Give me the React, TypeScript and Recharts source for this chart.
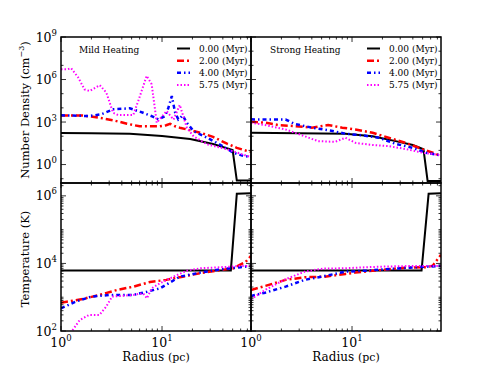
import React from 'react';
import { LineChart, Line, XAxis, YAxis } from 'recharts';

const W = 491;
const H = 368;

// ---------- Mild heating, number density ----------
const rMildN0 = [1, 2, 4.8, 10, 19, 32, 50, 55, 76];
const nMildN0 = [166, 160, 149, 102, 63, 28, 10.5, 0.074, 0.074];
const rMildN2 = [1, 1.65, 2.4, 3.3, 4.5, 6, 9.5, 11, 12, 13.5, 15, 17.6, 24, 32, 44, 55, 70, 76];
const nMildN2 = [2950, 2900, 2000, 1320, 760, 500, 500, 600, 750, 500, 400, 300, 175, 90, 30, 15, 9, 8];
const rMildN4 = [1, 1.9, 2.5, 3.3, 4.8, 6.5, 8, 9.2, 10.7, 11.5, 12.5, 13.5, 14.5, 16, 17.6, 20.5, 28, 38, 51, 64, 76];
const nMildN4 = [3000, 2650, 3500, 7900, 9300, 4500, 2500, 1550, 2650, 9000, 68000, 4500, 1550, 2900, 890, 230, 78, 24, 6.8, 4, 3.5];
const rMildN6 = [1, 1.15, 1.26, 1.47, 1.71, 1.92, 2.42, 2.81, 3.28, 3.68, 5.19, 5.81, 7.05, 7.9, 8.87, 10, 11.1, 12, 13, 15, 17.6, 20.5, 27.8, 44, 70, 76];
const nMildN6 = [5.2e6, 5.2e6, 6.2e6, 1.5e6, 2e5, 1.55e5, 4e5, 1.2e5, 4500, 3100, 3100, 3e4, 1.8e6, 4.6e5, 900, 2500, 6000, 3000, 1500, 16000, 400, 100, 27, 12, 4, 3.5];

// ---------- Strong heating, number density ----------
const rStrongN0 = [1, 8.6, 16, 27, 40, 51, 56, 76];
const nStrongN0 = [175, 150, 100, 45, 24, 12, 0.07, 0.07];
const rStrongN2 = [1, 1.38, 1.86, 2.7, 4, 5.8, 8, 10.8, 16, 23, 34, 50, 63, 76];
const nStrongN2 = [1050, 900, 615, 520, 400, 615, 400, 300, 175, 78, 34, 12, 6.8, 4];
const rStrongN4 = [1, 1.6, 2.2, 2.7, 4, 5.8, 8.6, 12.7, 18.4, 27, 40, 54, 72, 76];
const nStrongN4 = [1550, 1500, 1500, 750, 400, 270, 150, 115, 78, 29, 15, 6.8, 4.8, 4.5];
const rStrongN6 = [1, 1.38, 2.2, 3.4, 4.6, 6.8, 8.6, 10.8, 16, 23, 34, 50, 72, 76];
const nStrongN6 = [890, 615, 300, 100, 45, 40, 78, 34, 24, 20, 12.4, 6.8, 4.8, 4.6];

// ---------- Mild heating, temperature ----------
const rMildT0 = [1, 48, 55, 76];
const tMildT0 = [6200, 6200, 1.15e6, 1.2e6];
const rMildT2 = [1, 1.65, 2.4, 3.6, 5.2, 7.6, 11, 16, 24, 35, 51, 67, 76];
const tMildT2 = [690, 890, 1170, 1640, 2050, 2820, 3260, 4060, 5150, 6100, 7200, 11000, 16700];
const rMildT4 = [1, 1.4, 2, 3.05, 5.2, 7.1, 9.6, 15, 24, 38, 60, 76];
const tMildT4 = [470, 740, 1040, 1170, 1170, 1450, 1840, 4060, 5350, 6700, 7700, 8400];
const rMildT6 = [1.3, 1.53, 1.9, 2.4, 2.8, 3.2, 5.2, 6.5, 7.1, 7.9, 9.6, 13, 17.6, 24, 38, 60, 76];
const tMildT6 = [105, 210, 300, 300, 525, 1040, 1170, 1310, 930, 1840, 2600, 4060, 6100, 7200, 7700, 8400, 8400];

// ---------- Strong heating, temperature ----------
const rStrongT0 = [1, 48.8, 57.3, 76];
const tStrongT0 = [6200, 6200, 1.15e6, 1.2e6];
const rStrongT2 = [1, 1.38, 2.2, 3.4, 5.4, 8.6, 10.8, 16, 23, 34, 54, 63, 76];
const tStrongT2 = [1640, 2150, 3260, 3900, 4060, 4900, 5350, 6100, 6700, 7500, 7700, 8600, 18000];
const rStrongT4 = [1, 1.38, 2.2, 3.4, 5.4, 8.6, 13.7, 21.5, 34, 54, 76];
const tStrongT4 = [1090, 1360, 2050, 3260, 4260, 5700, 6100, 6700, 7400, 8000, 8400];
const rStrongT6 = [1, 1.38, 2.2, 3.4, 5.1, 8.6, 18.4, 40, 76];
const tStrongT6 = [870, 1640, 3400, 5700, 7000, 7200, 8000, 8400, 8400];

// ---------- labels / ticks ----------
const seriesLabels = ['0.00 (Myr)', '2.00 (Myr)', '4.00 (Myr)', '5.75 (Myr)'];
const panelTitles = ['Mild Heating', 'Strong Heating'];
const xMajorTicks = [1, 10];
const xAllTicks = [1, 2, 3, 4, 5, 6, 7, 8, 9, 10, 20, 30, 40, 50, 60, 70];
const densMajorTicks = [1, 1e3, 1e6, 1e9];
const densAllTicks = [0.1, 1, 10, 100, 1e3, 1e4, 1e5, 1e6, 1e7, 1e8, 1e9];
const tempMajorTicks = [1e2, 1e4, 1e6];
const tempAllTicks = [
  100, 200, 300, 400, 500, 600, 700, 800, 900,
  1e3, 2e3, 3e3, 4e3, 5e3, 6e3, 7e3, 8e3, 9e3,
  1e4, 2e4, 3e4, 4e4, 5e4, 6e4, 7e4, 8e4, 9e4,
  1e5, 2e5, 3e5, 4e5, 5e5, 6e5, 7e5, 8e5, 9e5,
  1e6, 2e6,
];
const xDomain: [number, number] = [1, 76];
const densDomain: [number, number] = [0.05, 1e9];
const tempDomain: [number, number] = [100, 2.4e6];

const FONT = 'DejaVu Serif';

const styles = [
  { color: '#000000', width: 2, dash: undefined as string | undefined },
  { color: '#ff0000', width: 2.5, dash: '7 3 2 3' },
  { color: '#0000ff', width: 2.5, dash: '4 3 1.5 3' },
  { color: '#ff00ff', width: 2, dash: '1.5 2' },
];

const pts = (rs: number[], vs: number[]) => rs.map((r, i) => ({ r, v: vs[i] }));

type Panel = { x0: number; x1: number; y0: number; y1: number };
const TL: Panel = { x0: 61, x1: 251, y0: 37, y1: 183 };
const TR: Panel = { x0: 251, x1: 441, y0: 37, y1: 183 };
const BL: Panel = { x0: 61, x1: 251, y0: 183, y1: 331 };
const BR: Panel = { x0: 251, x1: 441, y0: 183, y1: 331 };

const expOf = (v: number) => Math.round(Math.log10(v));

function makeXTick(p: Panel, showLabel: boolean) {
  return (props: any) => {
    const { x, payload } = props;
    const v = payload.value;
    const major = xMajorTicks.includes(v);
    const len = major ? 5 : 2.5;
    return (
      <g>
        <line x1={x} x2={x} y1={p.y1} y2={p.y1 - len} stroke="#000" strokeWidth={0.8} />
        <line x1={x} x2={x} y1={p.y0} y2={p.y0 + len} stroke="#000" strokeWidth={0.8} />
        {showLabel && major ? (
          <text x={x} y={p.y1 + 16} textAnchor="middle" fontFamily={FONT} fontSize={12.5} fill="#000">
            <tspan>10</tspan>
            <tspan dy={-6} fontSize={8.5}>{expOf(v)}</tspan>
          </text>
        ) : null}
      </g>
    );
  };
}

function makeYTick(p: Panel, majors: number[], showLabel: boolean) {
  return (props: any) => {
    const { y, payload } = props;
    const v = payload.value;
    const major = majors.includes(v);
    const len = major ? 5 : 2.5;
    return (
      <g>
        <line x1={p.x0} x2={p.x0 + len} y1={y} y2={y} stroke="#000" strokeWidth={0.8} />
        <line x1={p.x1} x2={p.x1 - len} y1={y} y2={y} stroke="#000" strokeWidth={0.8} />
        {showLabel && major ? (
          <text x={p.x0 - 4} y={y + 4.5} textAnchor="end" fontFamily={FONT} fontSize={12.5} fill="#000">
            <tspan>10</tspan>
            <tspan dy={-6} fontSize={8.5}>{expOf(v)}</tspan>
          </text>
        ) : null}
      </g>
    );
  };
}

type PanelChartProps = {
  p: Panel;
  data: { r: number; v: number }[][];
  yDomain: [number, number];
  yTicks: number[];
  yMajors: number[];
  showX: boolean;
  showY: boolean;
};

function PanelChart({ p, data, yDomain, yTicks, yMajors, showX, showY }: PanelChartProps) {
  return (
    <div style={{ position: 'absolute', left: 0, top: 0, width: W, height: H }}>
      <LineChart
        width={W}
        height={H}
        margin={{ top: p.y0, left: p.x0 - 2, right: W - p.x1, bottom: H - p.y1 - 2 }}
      >
        <XAxis
          dataKey="r"
          type="number"
          scale="log"
          domain={xDomain}
          allowDataOverflow
          ticks={xAllTicks}
          interval={0}
          height={2}
          axisLine={false}
          tickLine={false}
          tick={makeXTick(p, showX)}
        />
        <YAxis
          dataKey="v"
          type="number"
          scale="log"
          domain={yDomain}
          allowDataOverflow
          ticks={yTicks}
          interval={0}
          width={2}
          axisLine={false}
          tickLine={false}
          tick={makeYTick(p, yMajors, showY)}
        />
        {data.map((d, i) => (
          <Line
            key={i}
            data={d}
            dataKey="v"
            type="linear"
            stroke={styles[i].color}
            strokeWidth={styles[i].width}
            strokeDasharray={styles[i].dash}
            strokeLinecap="butt"
            dot={false}
            activeDot={false}
            isAnimationActive={false}
          />
        ))}
      </LineChart>
    </div>
  );
}

function LegendBlock({ p, title }: { p: Panel; title: string }) {
  const rows = [48.5, 60.7, 72.8, 85];
  return (
    <g>
      <text x={p.x0 + (title === 'Mild Heating' ? 18 : 19)} y={53} fontFamily={FONT} fontSize={9} fill="#000">
        {title}
      </text>
      {rows.map((yy, i) => (
        <g key={i}>
          <line
            x1={p.x1 - 74}
            x2={p.x1 - 61}
            y1={yy}
            y2={yy}
            stroke={styles[i].color}
            strokeWidth={styles[i].width}
            strokeDasharray={styles[i].dash}
          />
          <text x={p.x1 - 52} y={yy + 3.2} fontFamily={FONT} fontSize={9} fill="#000">
            {seriesLabels[i]}
          </text>
        </g>
      ))}
    </g>
  );
}

export default function App() {
  return (
    <div style={{ position: 'absolute', left: 0, top: 0, width: W, height: H, background: '#fff', overflow: 'hidden' }}>
      <PanelChart
        p={TL}
        data={[pts(rMildN0, nMildN0), pts(rMildN2, nMildN2), pts(rMildN4, nMildN4), pts(rMildN6, nMildN6)]}
        yDomain={densDomain}
        yTicks={densAllTicks}
        yMajors={densMajorTicks}
        showX={false}
        showY={true}
      />
      <PanelChart
        p={TR}
        data={[pts(rStrongN0, nStrongN0), pts(rStrongN2, nStrongN2), pts(rStrongN4, nStrongN4), pts(rStrongN6, nStrongN6)]}
        yDomain={densDomain}
        yTicks={densAllTicks}
        yMajors={densMajorTicks}
        showX={false}
        showY={false}
      />
      <PanelChart
        p={BL}
        data={[pts(rMildT0, tMildT0), pts(rMildT2, tMildT2), pts(rMildT4, tMildT4), pts(rMildT6, tMildT6)]}
        yDomain={tempDomain}
        yTicks={tempAllTicks}
        yMajors={tempMajorTicks}
        showX={true}
        showY={true}
      />
      <PanelChart
        p={BR}
        data={[pts(rStrongT0, tStrongT0), pts(rStrongT2, tStrongT2), pts(rStrongT4, tStrongT4), pts(rStrongT6, tStrongT6)]}
        yDomain={tempDomain}
        yTicks={tempAllTicks}
        yMajors={tempMajorTicks}
        showX={true}
        showY={false}
      />
      <svg width={W} height={H} style={{ position: 'absolute', left: 0, top: 0, pointerEvents: 'none' }}>
        {[TL, TR, BL, BR].map((p, i) => (
          <rect key={i} x={p.x0} y={p.y0} width={p.x1 - p.x0} height={p.y1 - p.y0} fill="none" stroke="#000" strokeWidth={1.5} />
        ))}
        <LegendBlock p={TL} title={panelTitles[0]} />
        <LegendBlock p={TR} title={panelTitles[1]} />
        <text transform="translate(29,110) rotate(-90)" textAnchor="middle" fontFamily={FONT} fontSize={11.5} fill="#000">
          Number Density (cm<tspan dy={-5} fontSize={8}>−3</tspan><tspan dy={5}>)</tspan>
        </text>
        <text transform="translate(29,259) rotate(-90)" textAnchor="middle" fontFamily={FONT} fontSize={11.5} fill="#000">
          Temperature (K)
        </text>
        <text x={156} y={361} textAnchor="middle" fontFamily={FONT} fontSize={12} fill="#000">
          Radius <tspan fontSize={11}>(pc)</tspan>
        </text>
        <text x={346} y={361} textAnchor="middle" fontFamily={FONT} fontSize={12} fill="#000">
          Radius <tspan fontSize={11}>(pc)</tspan>
        </text>
      </svg>
    </div>
  );
}
